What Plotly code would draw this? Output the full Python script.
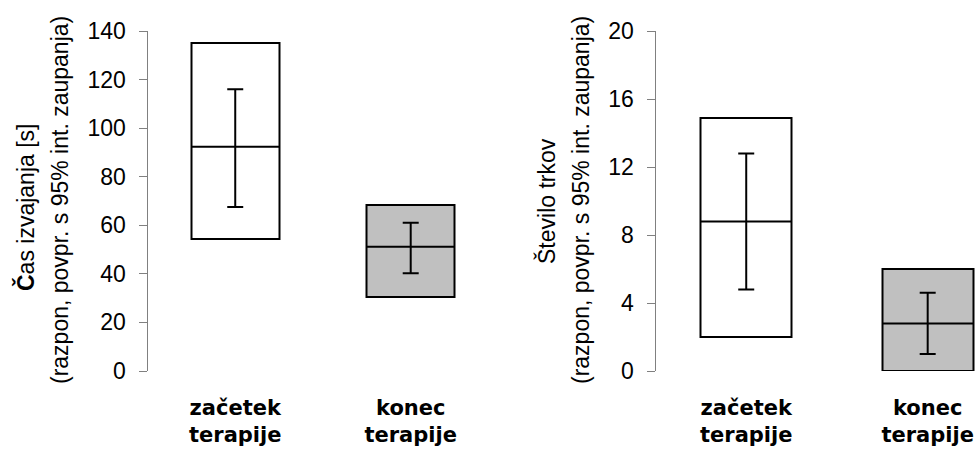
# Range, mean and 95% CI for the two therapy time points

import plotly.graph_objects as go
from plotly.subplots import make_subplots

################################################################################
# Data

categories = ["začetek<br>terapije", "konec<br>terapije"]
fills = ["white", "#c0c0c0"]

# left panel: execution time [s]
cas_min = [54.3, 30.5]
cas_max = [135.0, 68.3]
cas_mean = [92.3, 51.2]
cas_ci_low = [67.5, 40.2]
cas_ci_high = [116.0, 61.0]

# right panel: number of collisions
trk_min = [2.0, 0.0]
trk_max = [14.9, 6.0]
trk_mean = [8.8, 2.8]
trk_ci_low = [4.8, 1.0]
trk_ci_high = [12.8, 4.6]

y_titles = [
    ["<b>Č</b>as izvajanja [s]", "(razpon, povpr. s 95% int. zaupanja)"],
    ["Število trkov", "(razpon, povpr. s 95% int. zaupanja)"],
]

################################################################################
# Figure

W, H = 979, 457

def px_x(x):
    return x / W

def px_y(y):
    return 1 - y / H

box_w = 0.5
fig = make_subplots(rows=1, cols=2)

panels = [
    (cas_min, cas_max, cas_mean, cas_ci_low, cas_ci_high),
    (trk_min, trk_max, trk_mean, trk_ci_low, trk_ci_high),
]
xpos = list(range(len(categories)))

for col, (lo, hi, mean, cil, cih) in enumerate(panels, start=1):
    fig.add_trace(go.Bar(
        x=xpos, y=[h - l for h, l in zip(hi, lo)], base=lo, width=box_w,
        marker=dict(color=fills, line=dict(color="black", width=2)),
        showlegend=False, hoverinfo="skip",
    ), row=1, col=col)
    mx, my = [], []
    for x, m in zip(xpos, mean):
        mx += [x - box_w / 2, x + box_w / 2, None]
        my += [m, m, None]
    fig.add_trace(go.Scatter(
        x=mx, y=my, mode="lines", line=dict(color="black", width=2),
        showlegend=False, hoverinfo="skip",
    ), row=1, col=col)
    fig.add_trace(go.Scatter(
        x=xpos, y=mean, mode="markers", marker=dict(size=0.1, color="black"),
        error_y=dict(type="data", symmetric=False,
                     array=[h - m for h, m in zip(cih, mean)],
                     arrayminus=[m - l for m, l in zip(mean, cil)],
                     color="black", thickness=2, width=8),
        showlegend=False, hoverinfo="skip",
    ), row=1, col=col)

ydom = [px_y(371), px_y(31)]
xaxis_style = dict(
    tickvals=xpos, ticktext=categories, showline=False, showgrid=False,
    zeroline=False, ticks="", automargin=False, ticklabelstandoff=22,
    tickfont=dict(family="DejaVu Sans", size=21, color="black", weight="bold"),
)
yaxis_style = dict(
    showline=True, linecolor="#808080", linewidth=1, ticks="outside",
    ticklen=8, tickcolor="#808080", tickwidth=1, showgrid=False,
    zeroline=False, automargin=False, ticklabelstandoff=8,
    tickfont=dict(family="Liberation Sans", size=23, color="black"),
)

fig.update_xaxes(xaxis_style)
fig.update_yaxes(yaxis_style)
fig.update_xaxes(range=[-0.5, 1.298], domain=[px_x(147.5), px_x(463)], row=1, col=1)
fig.update_xaxes(range=[-0.5, 1.28], domain=[px_x(655.5), px_x(978.5)], row=1, col=2)
fig.update_yaxes(range=[0, 140], tickvals=[0, 20, 40, 60, 80, 100, 120, 140],
                 domain=ydom, row=1, col=1)
fig.update_yaxes(range=[0, 20], tickvals=[0, 4, 8, 12, 16, 20],
                 domain=ydom, row=1, col=2)

# y axis titles, two lines each
title_x = [[25, 60], [546, 581]]
title_y = [[208, 200], [201, 200]]
for p in range(2):
    for k in range(2):
        fig.add_annotation(
            text=y_titles[p][k], textangle=-90, showarrow=False,
            xref="paper", yref="paper", xanchor="center", yanchor="middle",
            x=px_x(title_x[p][k]), y=px_y(title_y[p][k]),
            font=dict(family="Liberation Sans", size=23, color="black"),
        )

fig.update_layout(
    width=W, height=H, margin=dict(l=0, r=0, t=0, b=0),
    paper_bgcolor="white", plot_bgcolor="white", bargap=0,
)

# drop the default page margin so the figure fills the window
fig.write_html("out.html", config={"displayModeBar": False},
               post_script="document.body.style.margin='0';"
                           "document.body.style.overflow='hidden';")
